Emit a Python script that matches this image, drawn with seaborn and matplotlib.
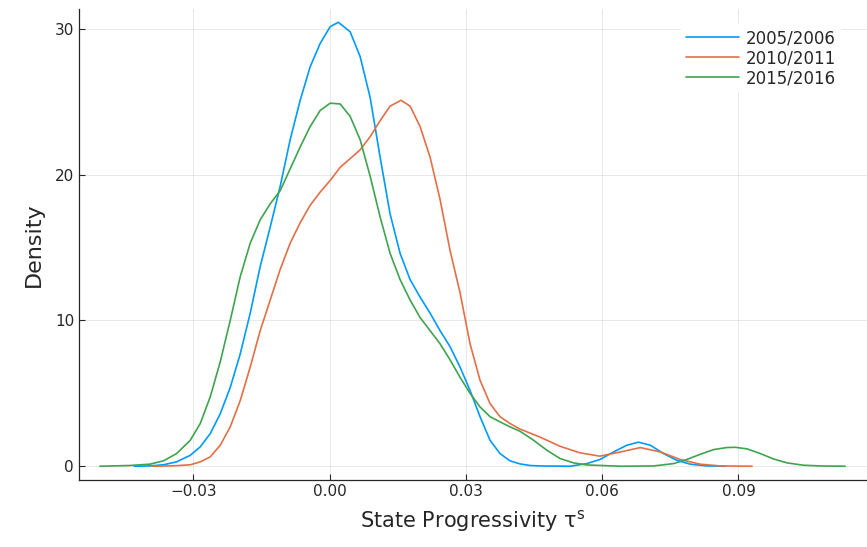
import numpy as np
import pandas as pd
import seaborn as sns
import matplotlib.pyplot as plt
from matplotlib.ticker import FuncFormatter

# density curves (x = tau^s, y = density)
x_0506 = [-0.0430, -0.0396, -0.0366, -0.0337, -0.0307, -0.0285, -0.0263, -0.0241, -0.0219,
          -0.0197, -0.0175, -0.0153, -0.0131, -0.0109, -0.0087, -0.0065, -0.0043, -0.0021,
          0.0001, 0.0019, 0.0045, 0.0067, 0.0089, 0.0111, 0.0133, 0.0155, 0.0177, 0.0199,
          0.0221, 0.0243, 0.0265, 0.0287, 0.0309, 0.0331, 0.0353, 0.0375, 0.0397, 0.0419,
          0.0441, 0.0463, 0.0529, 0.0566, 0.0595, 0.0625, 0.0654, 0.0680, 0.0706, 0.0735,
          0.0764, 0.0794, 0.0830, 0.0871]
d_0506 = [0.0, 0.02, 0.1, 0.3, 0.75, 1.33, 2.24, 3.6, 5.4,
          7.7, 10.5, 13.7, 16.4, 19.2, 22.4, 25.1, 27.4, 29.0,
          30.15, 30.45, 29.8, 28.1, 25.3, 21.2, 17.3, 14.6, 12.8, 11.6,
          10.5, 9.3, 8.2, 6.8, 5.2, 3.4, 1.78, 0.87, 0.37, 0.16,
          0.05, 0.02, 0.0, 0.18, 0.46, 0.98, 1.44, 1.65, 1.44, 0.87,
          0.41, 0.14, 0.02, 0.0]

x_1011 = [-0.0390, -0.0366, -0.0337, -0.0307, -0.0285, -0.0263, -0.0241, -0.0219, -0.0197,
          -0.0175, -0.0153, -0.0131, -0.0109, -0.0087, -0.0065, -0.0043, -0.0021, 0.0001,
          0.0023, 0.0045, 0.0067, 0.0089, 0.0111, 0.0133, 0.0157, 0.0177, 0.0199, 0.0221,
          0.0243, 0.0265, 0.0287, 0.0309, 0.0331, 0.0353, 0.0375, 0.0397, 0.0419, 0.0463,
          0.0507, 0.0551, 0.0595, 0.0640, 0.0684, 0.0728, 0.0772, 0.0816, 0.0860, 0.0930]
d_1011 = [0.0, 0.01, 0.04, 0.1, 0.3, 0.64, 1.44, 2.7, 4.5,
          6.8, 9.3, 11.4, 13.5, 15.3, 16.7, 17.9, 18.8, 19.6,
          20.5, 21.1, 21.7, 22.6, 23.7, 24.7, 25.1, 24.7, 23.3, 21.2,
          18.3, 14.8, 11.9, 8.4, 5.9, 4.3, 3.4, 2.93, 2.55, 2.0,
          1.37, 0.92, 0.69, 0.98, 1.28, 0.98, 0.46, 0.14, 0.02, 0.0]

x_1516 = [-0.0506, -0.0440, -0.0396, -0.0366, -0.0337, -0.0307, -0.0285, -0.0263, -0.0241,
          -0.0219, -0.0197, -0.0175, -0.0153, -0.0131, -0.0109, -0.0087, -0.0065, -0.0043,
          -0.0021, 0.0001, 0.0023, 0.0045, 0.0067, 0.0089, 0.0111, 0.0133, 0.0155, 0.0177,
          0.0199, 0.0221, 0.0243, 0.0265, 0.0287, 0.0309, 0.0331, 0.0353, 0.0375, 0.0397,
          0.0419, 0.0449, 0.0478, 0.0507, 0.0537, 0.0566, 0.0640, 0.0713, 0.0757, 0.0786,
          0.0816, 0.0845, 0.0874, 0.0893, 0.0919, 0.0948, 0.0977, 0.1007, 0.1043, 0.1080,
          0.1135]
d_1516 = [0.0, 0.05, 0.14, 0.37, 0.87, 1.78, 2.93, 4.76, 7.16,
          10.0, 13.0, 15.3, 16.9, 18.0, 18.9, 20.4, 21.9, 23.3,
          24.4, 24.9, 24.85, 24.0, 22.4, 19.9, 17.1, 14.6, 12.8, 11.4,
          10.2, 9.3, 8.4, 7.3, 6.1, 5.0, 4.07, 3.4, 3.04, 2.7,
          2.4, 1.78, 1.1, 0.53, 0.23, 0.09, 0.0, 0.02, 0.18, 0.46,
          0.82, 1.14, 1.28, 1.30, 1.19, 0.87, 0.5, 0.23, 0.07, 0.02,
          0.0]

labels = ["2005/2006", "2010/2011", "2015/2016"]
colors = ["#009AFA", "#E36F47", "#3EA44E"]

df = pd.concat([
    pd.DataFrame({"x": x_0506, "density": d_0506, "year": labels[0]}),
    pd.DataFrame({"x": x_1011, "density": d_1011, "year": labels[1]}),
    pd.DataFrame({"x": x_1516, "density": d_1516, "year": labels[2]}),
])

sns.set_style("ticks")
plt.rcParams['font.family'] = ['DejaVu Sans']

fig = plt.figure(figsize=(8.67, 5.47), dpi=100)
ax = fig.add_axes([0.0911, 0.1234, 0.9089, 0.8601])

sns.lineplot(data=df, x="x", y="density", hue="year", palette=colors,
             estimator=None, sort=True, linewidth=1.2, ax=ax)

ax.set_xlim(-0.0552, 0.1183)
ax.set_ylim(-0.91, 31.36)
ax.set_xticks([-0.03, 0.0, 0.03, 0.06, 0.09])
ax.set_yticks([0, 10, 20, 30])
ax.xaxis.set_major_formatter(FuncFormatter(lambda v, p: f"{v:.2f}".replace("-", "\u2212")))
ax.grid(True, color="black", alpha=0.1, linewidth=0.6)
ax.tick_params(direction="in", labelsize=11, length=4, width=0.8)
for s in ["top", "right"]:
    ax.spines[s].set_visible(False)
for s in ["left", "bottom"]:
    ax.spines[s].set_linewidth(0.9)

ax.set_xlabel(r"State Progressivity $\mathregular{\tau^s}$", fontsize=15, labelpad=6)
ax.set_ylabel("Density", fontsize=16, labelpad=8)

leg = ax.legend(loc="upper right", bbox_to_anchor=(0.967, 0.968), borderaxespad=0,
                frameon=True, fontsize=12, handlelength=3.2, handletextpad=0.4,
                labelspacing=0.12, borderpad=0.3)
leg.get_frame().set_edgecolor("none")
leg.get_frame().set_facecolor("white")
leg.get_frame().set_alpha(1)
leg.set_title(None)

fig.savefig("out.png", dpi=100)
